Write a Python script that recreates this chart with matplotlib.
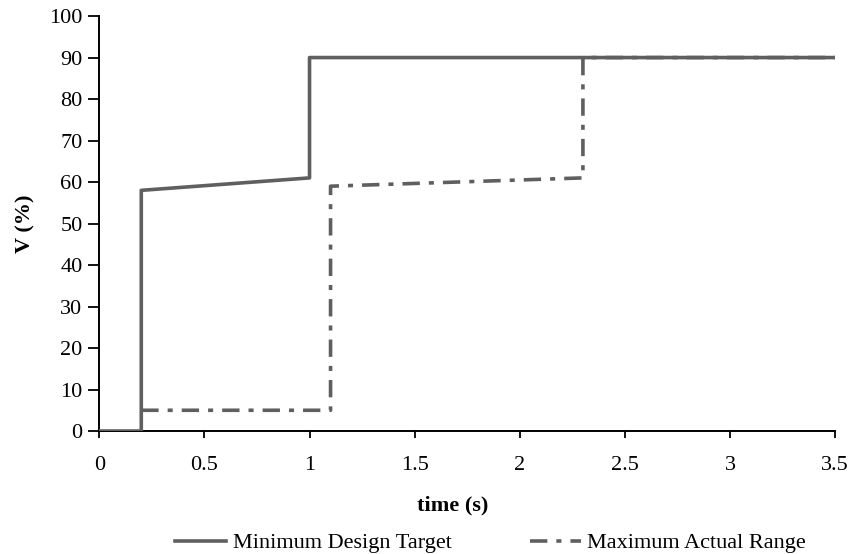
import matplotlib.pyplot as plt

plt.rcParams['font.family'] = ['Liberation Serif', 'DejaVu Serif']

# Minimum Design Target
t_min = [0, 0.2, 0.2, 1.0, 1.0, 3.5]
v_min = [0, 0, 58, 61, 90, 90]

# Maximum Actual Range
t_max = [0.2, 1.1, 1.1, 2.3, 2.3, 3.5]
v_max = [5, 5, 59, 61, 90, 90]

xticks = [0, 0.5, 1, 1.5, 2, 2.5, 3, 3.5]
xticklabels = ['0', '0.5', '1', '1.5', '2', '2.5', '3', '3.5']
yticks = list(range(0, 101, 10))

col = '#5f5f5f'

fig = plt.figure(figsize=(8.48, 5.54), dpi=100)
ax = fig.add_axes([0.117, 0.222, 0.868, 0.749])

ax.plot(t_min, v_min, color=col, lw=2.6, label='Minimum Design Target', zorder=3)
ax.plot(t_max, v_max, color=col, lw=2.6, dashes=(4.8, 2.5, 1.4, 2.5),
        label='Maximum Actual Range', zorder=2)

ax.set_xlim(0, 3.5)
ax.set_ylim(0, 100)
ax.set_xticks(xticks)
ax.set_xticklabels(xticklabels)
ax.set_yticks(yticks)
ax.tick_params(labelsize=16, direction='out', width=1.3, color='black')
ax.tick_params(axis='y', length=8, pad=4)
ax.tick_params(axis='x', length=5, pad=13)
for s in ['top', 'right']:
    ax.spines[s].set_visible(False)
for s in ['left', 'bottom']:
    ax.spines[s].set_linewidth(1.4)

ax.set_xlabel('time (s)', fontsize=16, fontweight='bold')
ax.xaxis.set_label_coords(0.48, -0.155)
ax.set_ylabel('V (%)', fontsize=16, fontweight='bold', labelpad=10)

fig.legend(loc='lower left', bbox_to_anchor=(0.183, -0.035), ncol=2, frameon=False,
           fontsize=16, handlelength=2.3, columnspacing=3.5, handletextpad=0.3)

fig.savefig('out.png', dpi=100)
